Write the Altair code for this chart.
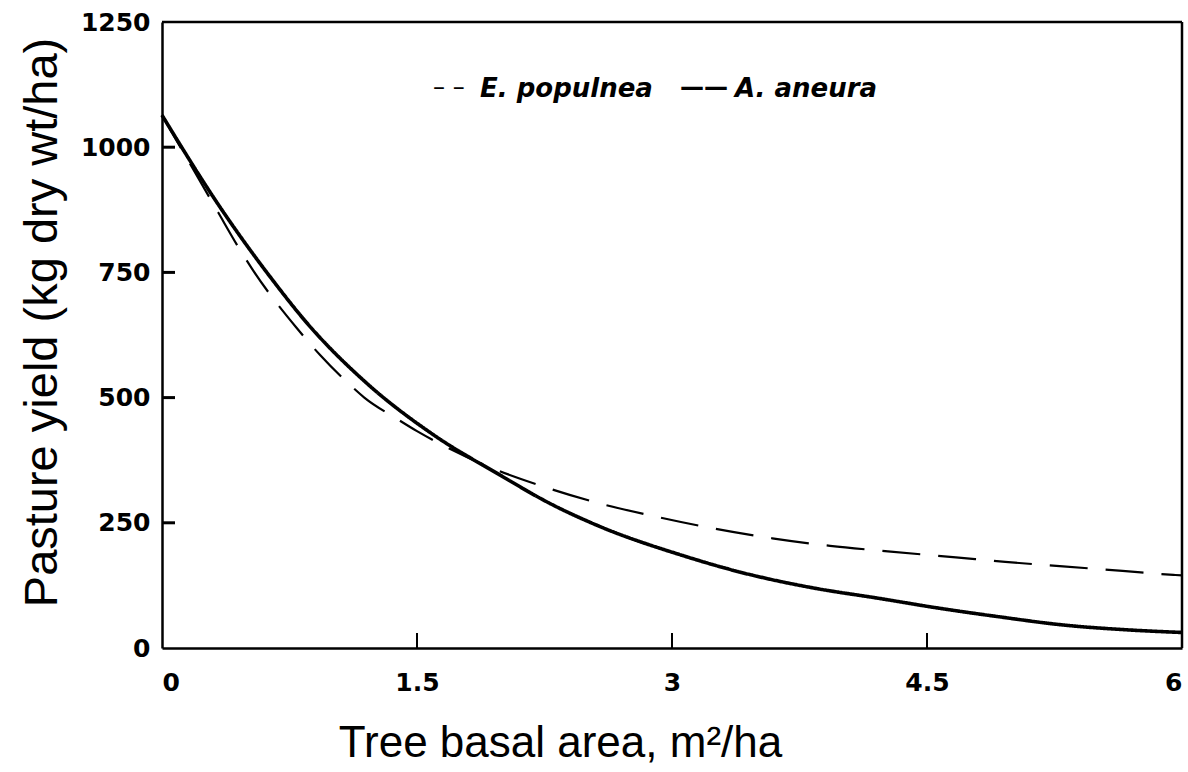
import altair as alt
import pandas as pd

# A. aneura (solid)
aneura_x = [0, 0.34, 0.65, 0.85, 1.2, 1.6, 1.99, 2.28, 2.58, 3.05, 3.43, 3.83, 4.22, 4.58, 4.91, 5.3, 5.69, 6.0]
aneura_y = [1064, 881, 735, 650, 530, 425, 345, 289, 242, 186, 149, 120, 99, 79, 63, 46, 36, 31]

# E. populnea (dashed)
populnea_x = [0, 0.18, 0.33, 0.45, 0.53, 0.79, 0.93, 1.11, 1.19, 1.38, 1.5, 1.64, 1.9, 2.22, 2.56, 2.91,
              3.24, 3.59, 3.93, 4.27, 4.67, 4.96, 5.3, 5.65, 5.95, 6.0]
populnea_y = [1064, 958, 870, 800, 757, 640, 585, 524, 500, 458, 433, 407, 365, 325, 290, 262,
              239, 219, 204, 193, 181, 172, 163, 154, 146, 145]

x_ticks = [0, 1.5, 3, 4.5, 6]
y_ticks = [0, 250, 500, 750, 1000, 1250]
x_inner_ticks = [1.5, 3, 4.5]
y_inner_ticks = [250, 500, 750, 1000]
x_max = [6]
y_max = [1250]

species = ["E. populnea", "A. aneura"]
legend_symbols = ["– –", "——"]

rows = []
for xv, yv in zip(populnea_x, populnea_y):
    rows.append({"x": xv, "y": yv, "species": "E. populnea"})
for xv, yv in zip(aneura_x, aneura_y):
    rows.append({"x": xv, "y": yv, "species": "A. aneura"})
df = pd.DataFrame(rows)

W, H = 1020, 626
xscale = alt.Scale(domain=[0, 6], nice=False, zero=False)
yscale = alt.Scale(domain=[0, 1250], nice=False)

lines = alt.Chart(df).mark_line(interpolate="monotone", color="black").encode(
    x=alt.X("x:Q", scale=xscale,
            axis=alt.Axis(values=x_ticks, format=".1~f", title="Tree basal area, m²/ha",
                          ticks=False, grid=False, labelPadding=22, titlePadding=26,
                          titleFontSize=44,
                          titleX=398, titleAnchor="start", titleAlign="center")),
    y=alt.Y("y:Q", scale=yscale,
            axis=alt.Axis(values=y_ticks, format="d", title="Pasture yield (kg dry wt/ha)",
                          ticks=False, grid=False, labelPadding=12, titlePadding=14,
                          titleY=300, titleAnchor="start", titleAlign="center")),
    strokeDash=alt.StrokeDash("species:N",
                              scale=alt.Scale(domain=species, range=[[38, 18], [1, 0]]),
                              legend=None),
    strokeWidth=alt.StrokeWidth("species:N",
                                scale=alt.Scale(domain=species, range=[2.2, 3.6]),
                                legend=None),
    order="x:Q",
)

# inward tick marks
yt = alt.Chart(pd.DataFrame({"v": y_inner_ticks})).mark_rule(color="black", strokeWidth=3).encode(
    y=alt.Y("v:Q", scale=yscale), x=alt.value(0), x2=alt.value(13))
xt = alt.Chart(pd.DataFrame({"w": x_inner_ticks})).mark_rule(color="black", strokeWidth=2).encode(
    x=alt.X("w:Q", scale=xscale), y=alt.value(H), y2=alt.value(H - 15))

# frame: top and right borders
top_border = alt.Chart(pd.DataFrame({"tb": y_max})).mark_rule(color="black", strokeWidth=2.5).encode(
    y=alt.Y("tb:Q", scale=yscale), x=alt.value(0), x2=alt.value(W))
right_border = alt.Chart(pd.DataFrame({"rb": x_max})).mark_rule(color="black", strokeWidth=2.5).encode(
    x=alt.X("rb:Q", scale=xscale), y=alt.value(0), y2=alt.value(H))

# manual legend (text only)
leg_s1 = alt.Chart(pd.DataFrame({"sym1": [legend_symbols[0]]})).mark_text(
    align="left", baseline="middle", font="DejaVu Sans", fontSize=24, fontWeight="normal",
    color="black").encode(x=alt.value(271), y=alt.value(66), text="sym1:N")
leg_s2 = alt.Chart(pd.DataFrame({"sym2": [legend_symbols[1]]})).mark_text(
    align="left", baseline="middle", font="DejaVu Sans", fontSize=24, fontWeight="bold",
    color="black").encode(x=alt.value(518), y=alt.value(66), text="sym2:N")
leg_t1 = alt.Chart(pd.DataFrame({"s1": [species[0]]})).mark_text(
    align="left", baseline="middle", font="DejaVu Sans", fontSize=26, fontStyle="italic",
    fontWeight="bold", color="black").encode(
    x=alt.value(318), y=alt.value(67), text="s1:N")
leg_t2 = alt.Chart(pd.DataFrame({"s2": [species[1]]})).mark_text(
    align="left", baseline="middle", font="DejaVu Sans", fontSize=26, fontStyle="italic",
    fontWeight="bold", color="black").encode(
    x=alt.value(573), y=alt.value(67), text="s2:N")

chart = alt.layer(lines, yt, xt, top_border, right_border, leg_s1, leg_s2, leg_t1, leg_t2).properties(
    width=W, height=H,
    autosize=alt.AutoSizeParams(type="none"),
    padding={"left": 162, "top": 22, "right": 6, "bottom": 124},
    background="white",
).configure_axis(
    domainColor="black", domainWidth=2.5,
    labelFont="DejaVu Sans", labelFontSize=25, labelFontWeight="bold", labelColor="black",
    titleFont="Liberation Sans", titleFontSize=47, titleFontWeight="normal", titleColor="black",
)

chart.save("out.html", embed_options={"renderer": "svg", "actions": False})
